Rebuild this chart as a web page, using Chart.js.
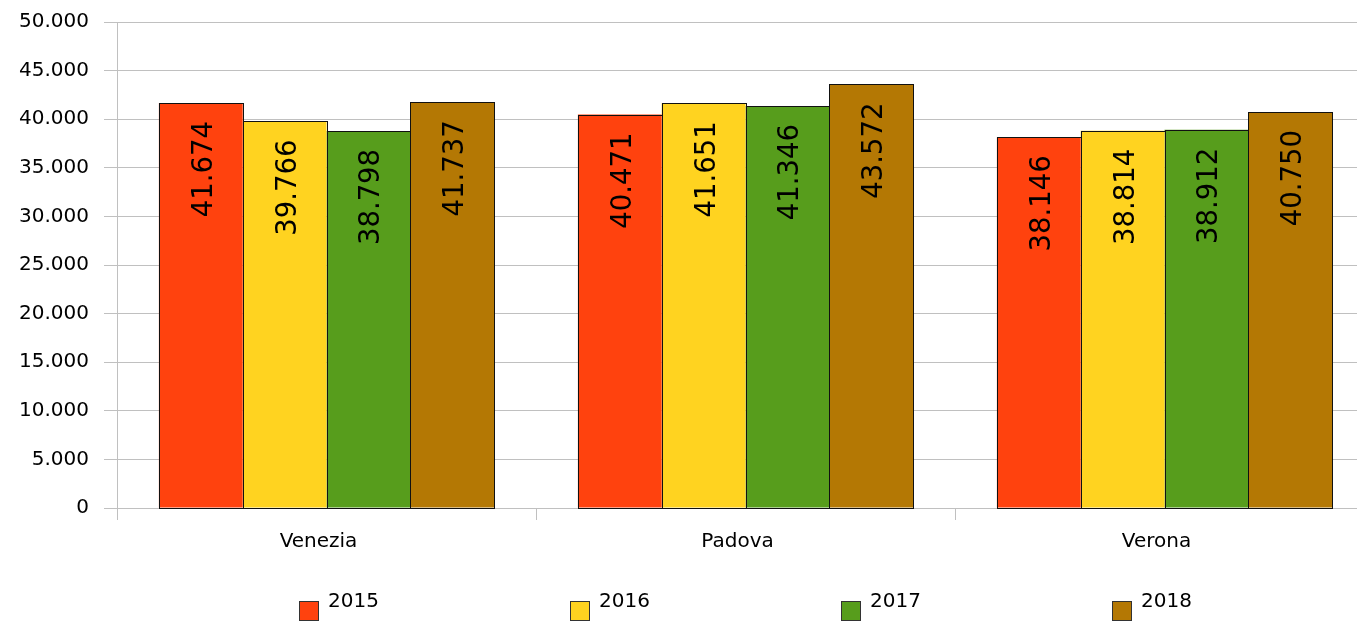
<!DOCTYPE html>
<html>
<head>
<meta charset="utf-8">
<script src="https://cdn.jsdelivr.net/npm/chart.js@4/dist/chart.umd.min.js"></script>
<style>
  html, body { margin: 0; padding: 0; background: #fff; overflow: hidden; }
  #wrap { width: 1357px; height: 623px; overflow: hidden; position: relative; }
  #box { width: 1380px; height: 623px; position: absolute; left: 0; top: 0; }
</style>
</head>
<body>
<div id="wrap"><div id="box"><canvas id="c" width="1380" height="623"></canvas></div></div>
<script>
// Città e anni
const categories = ['Venezia', 'Padova', 'Verona'];
const years = ['2015', '2016', '2017', '2018'];

// Valori per anno (una voce per città)
const values2015 = [41674, 40471, 38146];
const values2016 = [39766, 41651, 38814];
const values2017 = [38798, 41346, 38912];
const values2018 = [41737, 43572, 40750];

const yTicks = [0, 5000, 10000, 15000, 20000, 25000, 30000, 35000, 40000, 45000, 50000];

const colors = ['#ff420e', '#ffd320', '#579d1c', '#b47804'];
const seriesValues = [values2015, values2016, values2017, values2018];

const FONT = '"DejaVu Sans", Verdana, sans-serif';
const fmtNum = v => {
  const s = String(Math.round(v));
  return s.replace(/\B(?=(\d{3})+(?!\d))/g, '.');
};

// Contorno nero delle barre, allineato ai pixel
const barOutline = {
  id: 'barOutline',
  afterDatasetsDraw(chart) {
    const ctx = chart.ctx;
    ctx.save();
    ctx.strokeStyle = '#111';
    ctx.lineWidth = 1;
    chart.data.datasets.forEach((ds, di) => {
      chart.getDatasetMeta(di).data.forEach(bar => {
        const l = Math.round(bar.x - bar.width / 2);
        const r = Math.round(bar.x + bar.width / 2);
        const t = Math.round(bar.y);
        const b = Math.round(bar.base);
        ctx.strokeRect(l + 0.5, t + 0.5, r - l, b - t);
      });
    });
    ctx.restore();
  }
};

// Etichette verticali con il valore dentro ogni barra
const barLabels = {
  id: 'barLabels',
  afterDatasetsDraw(chart) {
    const ctx = chart.ctx;
    const size = 27.5;
    ctx.save();
    ctx.font = size + 'px ' + FONT;
    ctx.fillStyle = '#000';
    ctx.textAlign = 'right';
    ctx.textBaseline = 'alphabetic';
    chart.data.datasets.forEach((ds, di) => {
      chart.getDatasetMeta(di).data.forEach((bar, i) => {
        ctx.save();
        ctx.translate(bar.x + size * 0.4, bar.y + 18);
        ctx.rotate(-Math.PI / 2);
        ctx.fillText(fmtNum(ds.data[i]), 0, 0);
        ctx.restore();
      });
    });
    ctx.restore();
  }
};

// Legenda a passo fisso sotto il grafico
const fixedLegend = {
  id: 'fixedLegend',
  afterDraw(chart) {
    const ctx = chart.ctx;
    const area = chart.chartArea;
    const step = 271;
    const itemW = 80;
    const start = (area.left + area.right) / 2 - (step * (years.length - 1) + itemW) / 2;
    ctx.save();
    ctx.font = '20px ' + FONT;
    ctx.textAlign = 'left';
    ctx.textBaseline = 'alphabetic';
    chart.data.datasets.forEach((ds, i) => {
      const x = Math.round(start + i * step);
      const y = 601;
      ctx.fillStyle = ds.backgroundColor;
      ctx.fillRect(x + 0.5, y + 0.5, 19, 19);
      ctx.strokeStyle = '#333';
      ctx.lineWidth = 1;
      ctx.strokeRect(x + 0.5, y + 0.5, 19, 19);
      ctx.fillStyle = '#000';
      ctx.fillText(ds.label, x + 29, 607);
    });
    ctx.restore();
  }
};

new Chart(document.getElementById('c'), {
  type: 'bar',
  data: {
    labels: categories,
    datasets: years.map((y, i) => ({
      label: y,
      data: seriesValues[i],
      backgroundColor: colors[i],
      borderWidth: 0,
      categoryPercentage: 0.8,
      barPercentage: 1.0
    }))
  },
  options: {
    responsive: false,
    animation: false,
    devicePixelRatio: 1,
    layout: { padding: { top: 22, right: 6, bottom: 70, left: 0 } },
    plugins: {
      legend: { display: false },
      tooltip: { enabled: false }
    },
    scales: {
      x: {
        offset: true,
        grid: {
          offset: true,
          drawOnChartArea: false,
          drawTicks: true,
          tickLength: 12,
          color: '#c0c0c0',
          lineWidth: 1
        },
        border: { display: false },
        ticks: {
          color: '#000',
          font: { family: FONT, size: 20 },
          padding: 10,
          labelOffset: -8,
          maxRotation: 0
        },
        afterFit(scale) {
          scale.height = 45;
          scale.paddingLeft = 0;
          scale.paddingRight = 0;
        }
      },
      y: {
        min: 0,
        max: 50000,
        afterBuildTicks(scale) { scale.ticks = yTicks.map(v => ({ value: v })); },
        grid: {
          color: '#c0c0c0',
          lineWidth: 1,
          tickLength: 13
        },
        border: { display: true, color: '#c0c0c0', width: 1 },
        ticks: {
          color: '#000',
          font: { family: FONT, size: 20 },
          padding: 15,
          callback: v => fmtNum(v)
        },
        afterFit(scale) {
          scale.width = 117;
          scale.paddingTop = 0;
          scale.paddingBottom = 0;
        }
      }
    }
  },
  plugins: [barOutline, barLabels, fixedLegend]
});
</script>
</body>
</html>
